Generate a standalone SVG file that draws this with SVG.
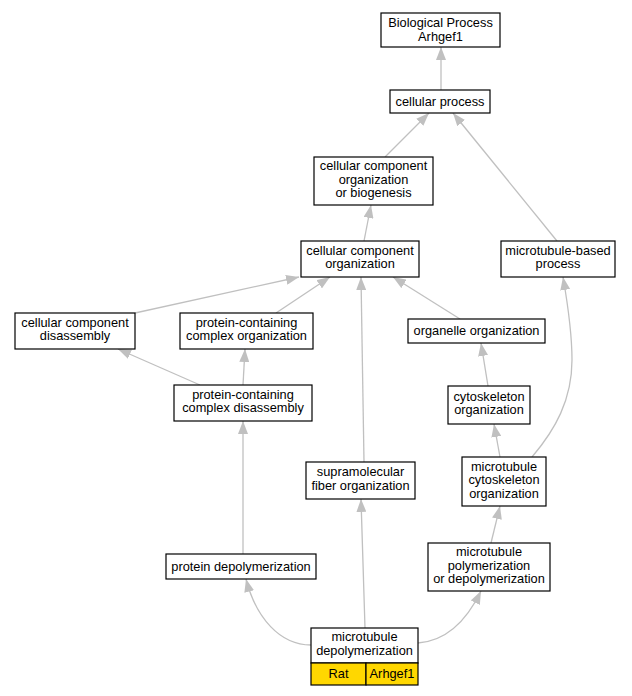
<svg xmlns="http://www.w3.org/2000/svg" width="632" height="696" viewBox="0 0 632 696">
<style>
.box{fill:#ffffff;stroke:#000000;stroke-width:1.2}
.gold{fill:#ffd700;stroke:#000000;stroke-width:1.2}
.lbl{font-family:"Liberation Sans",Arial,sans-serif;font-size:12.8px;fill:#000000;text-anchor:middle}
.edge{fill:none;stroke:#c0c0c0;stroke-width:1.3}
</style>
<defs>
<marker id="arr" viewBox="0 0 13 10" refX="13" refY="5" markerWidth="13" markerHeight="10" markerUnits="userSpaceOnUse" orient="auto">
<path d="M0,0 L13,5 L0,10 z" fill="#c0c0c0"/>
</marker>
</defs>
<rect width="632" height="696" fill="#ffffff"/>
<g id="connectors">
<path class="edge" marker-end="url(#arr)" d="M441,90 L441,47"/>
<path class="edge" marker-end="url(#arr)" d="M385,157 L429,113"/>
<path class="edge" marker-end="url(#arr)" d="M557,241 L453,113"/>
<path class="edge" marker-end="url(#arr)" d="M364,241 L371,205"/>
<path class="edge" marker-end="url(#arr)" d="M135,313 L299,277"/>
<path class="edge" marker-end="url(#arr)" d="M276,313 L330,277"/>
<path class="edge" marker-end="url(#arr)" d="M364,462 L361,277"/>
<path class="edge" marker-end="url(#arr)" d="M460,319 L393,277"/>
<path class="edge" marker-end="url(#arr)" d="M200,385 L118,349"/>
<path class="edge" marker-end="url(#arr)" d="M243,385 L245,349"/>
<path class="edge" marker-end="url(#arr)" d="M243,554 L243,421"/>
<path class="edge" marker-end="url(#arr)" d="M488,386 L481,343"/>
<path class="edge" marker-end="url(#arr)" d="M500,457 L494,424"/>
<path class="edge" marker-end="url(#arr)" d="M532,457 C555,430 572,400 572,360 C572,330 567,300 563,277"/>
<path class="edge" marker-end="url(#arr)" d="M491,543 L500,506"/>
<path class="edge" marker-end="url(#arr)" d="M311,645 C280,645 256,618 246,579"/>
<path class="edge" marker-end="url(#arr)" d="M365,628 L361,499"/>
<path class="edge" marker-end="url(#arr)" d="M418,643 C445,641 466,622 481,591"/>
</g>
<g id="n_bp">
<rect class="box" x="381" y="13" width="119" height="34"/>
<text class="lbl" x="440.5" y="27">Biological Process</text>
<text class="lbl" x="440.5" y="40.5">Arhgef1</text>
</g>
<g id="n_cp">
<rect class="box" x="390" y="90" width="100" height="23"/>
<text class="lbl" x="440" y="106">cellular process</text>
</g>
<g id="n_ccob">
<rect class="box" x="314" y="157" width="119" height="48"/>
<text class="lbl" x="373.5" y="170">cellular component</text>
<text class="lbl" x="373.5" y="183.5">organization</text>
<text class="lbl" x="373.5" y="197">or biogenesis</text>
</g>
<g id="n_cco">
<rect class="box" x="301" y="241" width="118" height="36"/>
<text class="lbl" x="360" y="254.5">cellular component</text>
<text class="lbl" x="360" y="268">organization</text>
</g>
<g id="n_mtbp">
<rect class="box" x="501" y="241" width="114" height="36"/>
<text class="lbl" x="558" y="254.5">microtubule-based</text>
<text class="lbl" x="558" y="268">process</text>
</g>
<g id="n_ccd">
<rect class="box" x="15" y="313" width="120" height="36"/>
<text class="lbl" x="75" y="326.5">cellular component</text>
<text class="lbl" x="75" y="340">disassembly</text>
</g>
<g id="n_pcco">
<rect class="box" x="180" y="313" width="133" height="36"/>
<text class="lbl" x="246.5" y="326.5">protein-containing</text>
<text class="lbl" x="246.5" y="340">complex organization</text>
</g>
<g id="n_oo">
<rect class="box" x="408" y="319" width="137" height="24"/>
<text class="lbl" x="476.5" y="335">organelle organization</text>
</g>
<g id="n_pccd">
<rect class="box" x="174" y="385" width="138" height="36"/>
<text class="lbl" x="243" y="398.5">protein-containing</text>
<text class="lbl" x="243" y="412">complex disassembly</text>
</g>
<g id="n_cyto">
<rect class="box" x="448" y="386" width="82" height="38"/>
<text class="lbl" x="489" y="400.5">cytoskeleton</text>
<text class="lbl" x="489" y="414">organization</text>
</g>
<g id="n_mtco">
<rect class="box" x="462" y="457" width="84" height="49"/>
<text class="lbl" x="504" y="470.5">microtubule</text>
<text class="lbl" x="504" y="484">cytoskeleton</text>
<text class="lbl" x="504" y="497.5">organization</text>
</g>
<g id="n_sfo">
<rect class="box" x="306" y="462" width="109" height="37"/>
<text class="lbl" x="360.5" y="476">supramolecular</text>
<text class="lbl" x="360.5" y="489.5">fiber organization</text>
</g>
<g id="n_pd">
<rect class="box" x="166" y="554" width="150" height="25"/>
<text class="lbl" x="241" y="570.5">protein depolymerization</text>
</g>
<g id="n_mtpd">
<rect class="box" x="428" y="543" width="122" height="48"/>
<text class="lbl" x="489" y="556">microtubule</text>
<text class="lbl" x="489" y="569.5">polymerization</text>
<text class="lbl" x="489" y="583">or depolymerization</text>
</g>
<g id="n_mtd">
<rect class="box" x="311" y="628" width="107" height="35"/>
<rect class="gold" x="311" y="663" width="55" height="22"/>
<rect class="gold" x="366" y="663" width="52" height="22"/>
<text class="lbl" x="364.5" y="641">microtubule</text>
<text class="lbl" x="364.5" y="654.5">depolymerization</text>
<text class="lbl" x="338.5" y="678">Rat</text>
<text class="lbl" x="392" y="678">Arhgef1</text>
</g>
</svg>
